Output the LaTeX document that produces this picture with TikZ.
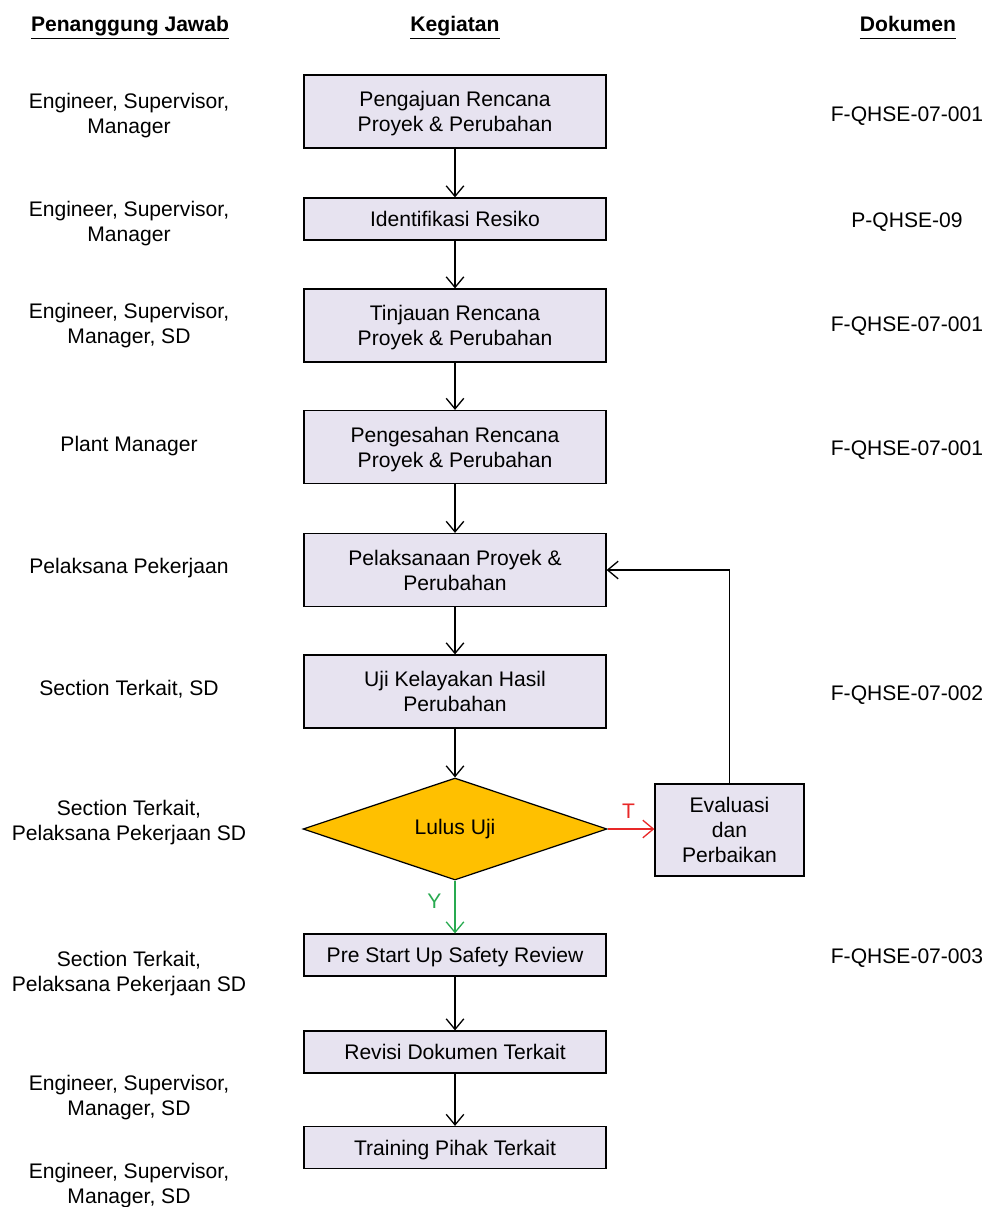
\documentclass[tikz,border=0pt]{standalone}
\usepackage{fontspec}
\setmainfont{Liberation Sans}
\usetikzlibrary{positioning,shapes.geometric,arrows.meta}
\definecolor{boxfill}{RGB}{231,227,240}
\definecolor{decfill}{RGB}{255,192,0}
\definecolor{tred}{RGB}{232,40,40}
\definecolor{ygreen}{RGB}{40,170,80}
\newcommand{\colhead}[1]{\underline{#1\vphantom{Jg}}}

\begin{document}
\begin{tikzpicture}[
                x=0.02cm, y=-0.02cm,
                every node/.append style={font=\fontsize{12}{14.2}\selectfont,align=center},
                head/.style={font=\fontsize{12}{14.2}\selectfont\bfseries},
                proc/.style={rectangle,draw,fill=boxfill,line width=0.7pt,minimum width=6.04cm,minimum height=1.46cm,inner sep=2pt,text depth=0pt},
                procs/.style={proc,minimum height=0.84cm},
                dec/.style={diamond,draw,fill=decfill,line width=0.7pt,minimum width=6.08cm,minimum height=2.04cm,inner sep=0pt},
                arr/.style={-{Straight Barb[length=6pt,width=10pt]},line width=0.75pt}
            ]
                \useasboundingbox (0,0) rectangle (991,1207);
                % headers
                \node (hL) [head] at (130,28) {\colhead{Penanggung Jawab}};
                \node (hM) [head] at (455,28) {\colhead{Kegiatan}};
                \node (hR) [head] at (908,28) {\colhead{Dokumen}};
                % kegiatan
                \node (p1) [proc]  at (455,111.5) {Pengajuan Rencana\\Proyek \& Perubahan};
                \node (p2) [procs] at (455,219)   {Identifikasi Resiko};
                \node (p3) [proc]  at (455,325.5) {Tinjauan Rencana\\Proyek \& Perubahan};
                \node (p4) [proc]  at (455,447)   {Pengesahan Rencana\\Proyek \& Perubahan};
                \node (p5) [proc]  at (455,570)   {Pelaksanaan Proyek \&\\Perubahan};
                \node (p6) [proc]  at (455,691.5) {Uji Kelayakan Hasil\\Perubahan};
                \node (d1) [dec]   at (455,829)   {Lulus Uji};
                \node (ev) [proc,minimum width=2.98cm,minimum height=1.84cm] at (729.5,830) {Evaluasi\\dan\\Perbaikan};
                \node (p7) [procs] at (455,955)   {Pre Start Up Safety Review};
                \node (p8) [procs] at (455,1052)  {Revisi Dokumen Terkait};
                \node (p9) [procs] at (455,1147.5) {Training Pihak Terkait};
                \draw[arr] (p1) -- (p2);
                \draw[arr] (p2) -- (p3);
                \draw[arr] (p3) -- (p4);
                \draw[arr] (p4) -- (p5);
                \draw[arr] (p5) -- (p6);
                \draw[arr] (p6.south) -- (d1.north);
                \draw[arr,tred] (d1.east) -- (d1.east -| ev.west) node (lT) [pos=0.45,above=2pt] {T};
                \draw[arr,ygreen] (d1.south) -- (p7.north) node (lY) [pos=0.4,left=4pt] {Y};
                \draw[arr] (ev.north) |- (p5.east);
                \draw[arr] (p7) -- (p8);
                \draw[arr] (p8) -- (p9);
                % penanggung jawab
                \node (r1)  at (129,116)  {Engineer, Supervisor,\\Manager};
                \node (r2)  at (129,224)  {Engineer, Supervisor,\\Manager};
                \node (r3)  at (129,326)  {Engineer, Supervisor,\\Manager, SD};
                \node (r4)  at (129,446)  {Plant Manager};
                \node (r5)  at (129,568)  {Pelaksana Pekerjaan};
                \node (r6)  at (129,689)  {Section Terkait, SD};
                \node (r7)  at (129,823)  {Section Terkait,\\Pelaksana Pekerjaan SD};
                \node (r8)  at (129,974)  {Section Terkait,\\Pelaksana Pekerjaan SD};
                \node (r9)  at (129,1098) {Engineer, Supervisor,\\Manager, SD};
                \node (r10) at (129,1186) {Engineer, Supervisor,\\Manager, SD};
                % dokumen
                \node (k1) at (907,116) {F-QHSE-07-001};
                \node (k2) at (907,222) {P-QHSE-09};
                \node (k3) at (907,326) {F-QHSE-07-001};
                \node (k4) at (907,450) {F-QHSE-07-001};
                \node (k6) at (907,695) {F-QHSE-07-002};
                \node (k7) at (907,958) {F-QHSE-07-003};
            \end{tikzpicture}
\end{document}
